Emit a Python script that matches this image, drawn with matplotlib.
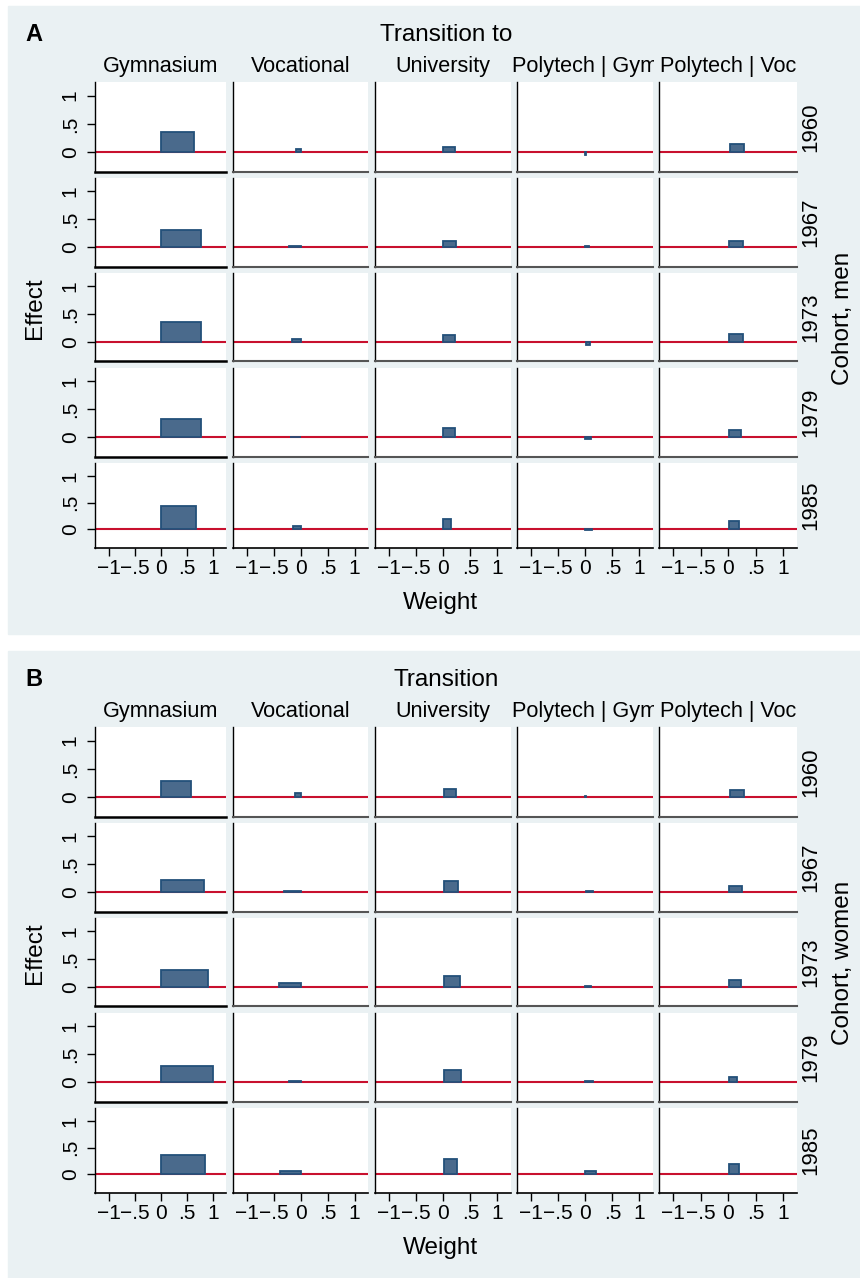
import matplotlib
matplotlib.use('Agg')
import matplotlib.pyplot as plt
from matplotlib.patches import Rectangle
from matplotlib.transforms import Bbox, TransformedBbox

plt.rcParams['font.family'] = ['Liberation Sans', 'DejaVu Sans']

transitions = ['Gymnasium', 'Vocational', 'University', 'Polytech | Gym', 'Polytech | Voc']
cohorts = ['1960', '1967', '1973', '1979', '1985']
xtick_vals = [-1, -0.5, 0, 0.5, 1]
xtick_labels = ['\u22121', '\u2212.5', '0', '.5', '1']
ytick_vals = [0, 0.5, 1]
ytick_labels = ['0', '.5', '1']

# rows = cohorts, cols = transitions; bar spans weight lo..hi, height = effect
men_lo = [[0, -0.09, 0, -0.01, 0.03],
          [0, -0.22, 0, 0.00, 0.02],
          [0, -0.17, 0, 0.01, 0.02],
          [0, -0.20, 0, 0.00, 0.02],
          [0, -0.15, 0, 0.00, 0.02]]
men_hi = [[0.63, 0, 0.21, 0.02, 0.29],
          [0.78, 0, 0.24, 0.07, 0.27],
          [0.77, 0, 0.22, 0.09, 0.27],
          [0.78, 0, 0.22, 0.10, 0.23],
          [0.67, 0, 0.14, 0.12, 0.20]]
men_eff = [[0.35, 0.05, 0.10, -0.05, 0.15],
           [0.31, 0.03, 0.12, 0.03, 0.12],
           [0.36, 0.05, 0.12, -0.06, 0.13],
           [0.33, 0.01, 0.16, -0.03, 0.13],
           [0.43, 0.06, 0.20, -0.01, 0.15]]

women_lo = [[0, -0.10, 0.01, 0.00, 0.03],
            [0, -0.32, 0.01, 0.01, 0.01],
            [0, -0.40, 0.01, 0.00, 0.01],
            [0, -0.22, 0.01, 0.00, 0.01],
            [0, -0.38, 0.01, 0.00, 0.01]]
women_hi = [[0.58, 0, 0.23, 0.02, 0.29],
            [0.83, 0, 0.28, 0.15, 0.25],
            [0.90, 0, 0.30, 0.10, 0.23],
            [1.00, 0, 0.32, 0.15, 0.16],
            [0.84, 0, 0.26, 0.19, 0.19]]
women_eff = [[0.29, 0.07, 0.15, 0.02, 0.12],
             [0.23, 0.03, 0.20, 0.02, 0.12],
             [0.30, 0.06, 0.20, 0.02, 0.12],
             [0.30, 0.03, 0.23, 0.03, 0.09],
             [0.37, 0.055, 0.29, 0.07, 0.19]]

W, H = 860, 1278
fig = plt.figure(figsize=(W / 100, H / 100), dpi=100)
bg = '#eaf1f3'
barfill = '#4a6a8c'
baredge = '#23507a'
red = '#c8102e'

col_x = [95, 233, 375, 517, 659]
col_w = [131, 135, 136, 136, 138]
row_y = [82, 178, 273, 368, 463]
row_h = [90, 89, 88, 89, 85]


def fx(px):
    return px / W


def fy(py):
    return 1 - py / H


def panel(off, letter, title, gender, lo, hi, eff):
    fig.patches.append(Rectangle((fx(8), fy(off + 634)), 852 / W, 628 / H,
                                 transform=fig.transFigure, color=bg, zorder=-10))
    for r in range(5):
        for c in range(5):
            ax = fig.add_axes([fx(col_x[c]), fy(off + row_y[r] + row_h[r]), col_w[c] / W, row_h[r] / H])
            ax.axhline(0, color=red, lw=1.5, zorder=1)
            ax.bar(lo[r][c], eff[r][c], width=hi[r][c] - lo[r][c], bottom=0, align='edge',
                   color=barfill, edgecolor=baredge, linewidth=1.3, zorder=2)
            ax.set_xlim(-1.26, 1.25)
            ax.set_ylim(-0.35, 1.24)
            ax.spines['top'].set_visible(False)
            ax.spines['right'].set_visible(False)
            ax.spines['left'].set_color('black')
            ax.spines['left'].set_linewidth(1.0)
            if r < 4:
                if c == 0:
                    ax.spines['bottom'].set_color('black')
                    ax.spines['bottom'].set_linewidth(1.8)
                else:
                    ax.spines['bottom'].set_color('#555555')
                    ax.spines['bottom'].set_linewidth(1.5)
                ax.set_xticks([])
            else:
                ax.spines['bottom'].set_color('black')
                ax.spines['bottom'].set_linewidth(1.2)
                ax.set_xticks(xtick_vals)
                ax.set_xticklabels(xtick_labels, fontsize=15)
                ax.tick_params(axis='x', length=6, width=1, pad=2)
            if c == 0:
                ax.set_yticks(ytick_vals)
                ax.set_yticklabels(ytick_labels, fontsize=15, rotation=90, va='center')
                ax.tick_params(axis='y', length=6, width=1, pad=5)
            else:
                ax.set_yticks([])
    fig.text(fx(34), fy(off + 41), letter, fontsize=17, fontweight='bold', ha='center', va='baseline')
    fig.text(fx(446), fy(off + 41), title, fontsize=17.5, ha='center', va='baseline')
    for c in range(5):
        t = fig.text(fx(col_x[c] + col_w[c] / 2), fy(off + 72), transitions[c],
                     fontsize=15.6, ha='center', va='baseline')
        if c == 3:
            clip = TransformedBbox(Bbox.from_extents(0, 0, fx(654), 1), fig.transFigure)
            t.set_clip_box(clip)
            t.set_clip_on(True)
    for r in range(5):
        fig.text(fx(811), fy(off + row_y[r] + row_h[r] / 2), cohorts[r], fontsize=16,
                 rotation=90, ha='center', va='center')
    fig.text(fx(843), fy(off + 318), 'Cohort, ' + gender, fontsize=17.5, rotation=90,
             ha='center', va='center')
    fig.text(fx(35), fy(off + 308), 'Effect', fontsize=17.5, rotation=90, ha='center', va='center')
    fig.text(fx(440), fy(off + 609), 'Weight', fontsize=17.5, ha='center', va='baseline')


panel(0, 'A', 'Transition to', 'men', men_lo, men_hi, men_eff)
panel(645, 'B', 'Transition', 'women', women_lo, women_hi, women_eff)

fig.savefig('out.png', dpi=100)
